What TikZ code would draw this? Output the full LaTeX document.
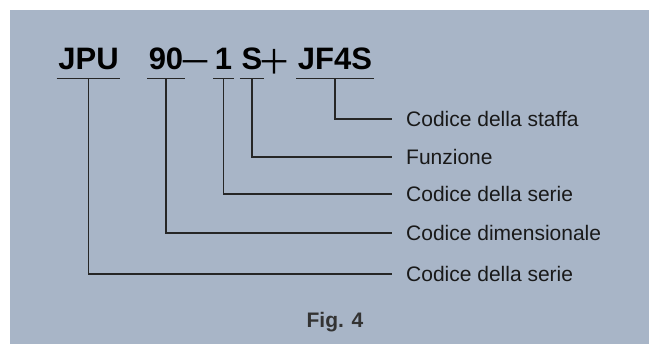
\documentclass[tikz,border=0pt]{standalone}
\usepackage{fontspec}
\setmainfont{Liberation Sans}
\newfontfamily\cjk{Noto Sans CJK JP}
\definecolor{panelgrey}{RGB}{168,181,199}
\definecolor{figgrey}{RGB}{51,51,51}
\tikzset{
  codepart/.style={anchor=base, inner xsep=1.5pt, inner ysep=8pt, text depth=0pt, font=\fontsize{31}{31}\selectfont\bfseries},
  signpart/.style={anchor=base, inner sep=0pt, font=\fontsize{34}{34}\selectfont\cjk},
  meaning/.style={anchor=west, inner sep=0pt, text height=15pt, text depth=0pt, font=\fontsize{21}{21}\selectfont, text=black!90},
  leader/.style={line width=1.1pt, black!85}
}
\begin{document}
\begin{tikzpicture}[x=1pt,y=-1pt]
\fill[white] (0,0) rectangle (649,344);
\fill[panelgrey] (10,10) rectangle (649,344);
\node[codepart] (jpu) at (88.5,70) {JPU};
\node[codepart] (size) at (166,70) {90};
\node[signpart] (minus) at (195,75) {－};
\node[codepart] (series) at (223.5,70) {1};
\node[codepart] (func) at (252,70) {S};
\node[signpart] (plus) at (274,75) {＋};
\node[codepart] (bracket) at (335,70) {JF4S};
\node[meaning] (lbracket) at (406,119) {Codice della staffa};
\node[meaning] (lfunc) at (406,157) {Funzione};
\node[meaning] (lseriesB) at (406,194) {Codice della serie};
\node[meaning] (lsize) at (406,233) {Codice dimensionale};
\node[meaning] (lseriesA) at (406,274) {Codice della serie};
\foreach \p/\l in {jpu/lseriesA, size/lsize, series/lseriesB, func/lfunc, bracket/lbracket} {
  \draw[leader] (\p.south west) -- (\p.south east);
  \draw[leader] (\p.south) |- ([xshift=-14pt]\l.west);
}
\node[font=\fontsize{21}{21}\selectfont\bfseries, text=figgrey, anchor=base] (caption) at (335,328) {Fig. 4};
\end{tikzpicture}
\end{document}
